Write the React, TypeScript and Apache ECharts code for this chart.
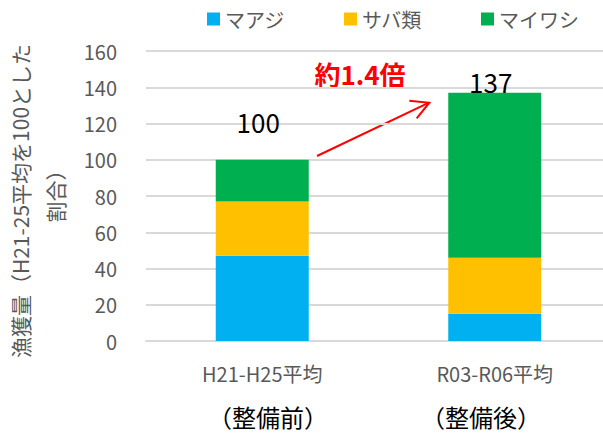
import React, { useEffect, useRef } from "react";
import * as echarts from "echarts";

const categories = ["H21-H25平均", "R03-R06平均"];
const periodNotes = ["（整備前）", "（整備後）"];
const seriesNames = ["マアジ", "サバ類", "マイワシ"];
const aji = [47, 15];
const saba = [30, 31];
const iwashi = [23, 91];
const totals = [100, 137];
const yTicks = { min: 0, max: 160, interval: 20 };
const ratioText = "約1.4倍";
const yName1 = "漁獲量（H21-25平均を100とした";
const yName2 = "割合）";

const colors = ["#00B0F0", "#FFC000", "#00B050"];
const FONT = "'Noto Sans CJK JP', 'Noto Sans', sans-serif";
const GRAY = "#595959";

export default function App() {
  const ref = useRef<HTMLDivElement>(null);
  useEffect(() => {
    if (!ref.current) return;
    const chart = echarts.init(ref.current, undefined, { renderer: "svg" });
    const values = [aji, saba, iwashi];
    const series: any[] = seriesNames.map((name, i) => ({
      name,
      type: "bar",
      stack: "total",
      barWidth: 93,
      itemStyle: { color: colors[i] },
      data: values[i].map((v, j) => {
        if (i !== 2) return v;
        return {
          value: v,
          label: {
            show: true,
            position: "top",
            distance: 0,
            offset: j === 0 ? [-4, -25] : [-4, 2],
            formatter: String(totals[j]),
            fontSize: 26,
            color: "#000",
            fontFamily: FONT,
          },
        };
      }),
    }));
    chart.setOption({
      animation: false,
      textStyle: { fontFamily: FONT },
      legend: {
        data: seriesNames,
        left: 202,
        top: 4,
        itemWidth: 13,
        itemHeight: 13,
        itemGap: 59,
        icon: "rect",
        textStyle: { fontSize: 20, color: GRAY, fontFamily: FONT },
      },
      grid: { left: 146, top: 51, width: 465, height: 290, containLabel: false },
      xAxis: {
        type: "category",
        data: categories,
        axisTick: { show: false },
        axisLine: { lineStyle: { color: "#d9d9d9", width: 2 } },
        axisLabel: { fontSize: 20, color: GRAY, margin: 22, fontFamily: FONT },
      },
      yAxis: {
        type: "value",
        min: yTicks.min,
        max: yTicks.max,
        interval: yTicks.interval,
        axisLine: { show: false },
        axisTick: { show: false },
        splitLine: { lineStyle: { color: "#d9d9d9", width: 2 } },
        axisLabel: { fontSize: 20, color: GRAY, margin: 29, fontFamily: FONT },
      },
      series,
      graphic: [
        {
          type: "text",
          x: 20,
          y: 201,
          rotation: Math.PI / 2,
          style: {
            text: yName1,
            fontSize: 21,
            fill: GRAY,
            fontFamily: FONT,
            align: "center",
            verticalAlign: "middle",
          },
        },
        {
          type: "text",
          x: 55,
          y: 191,
          rotation: Math.PI / 2,
          style: {
            text: yName2,
            fontSize: 21,
            fill: GRAY,
            fontFamily: FONT,
            align: "center",
            verticalAlign: "middle",
          },
        },
        {
          type: "text",
          x: 268,
          y: 416,
          style: {
            text: periodNotes[0],
            fontSize: 24,
            fill: "#000",
            fontFamily: FONT,
            align: "center",
            verticalAlign: "middle",
          },
        },
        {
          type: "text",
          x: 481,
          y: 416,
          style: {
            text: periodNotes[1],
            fontSize: 24,
            fill: "#000",
            fontFamily: FONT,
            align: "center",
            verticalAlign: "middle",
          },
        },
        {
          type: "text",
          x: 360,
          y: 73,
          style: {
            text: ratioText,
            fontSize: 26,
            fontWeight: "bold",
            fill: "#FF0000",
            fontFamily: FONT,
            align: "center",
            verticalAlign: "middle",
          },
        },
        {
          type: "line",
          shape: { x1: 317, y1: 156, x2: 429, y2: 102.7 },
          style: { stroke: "#FF0000", lineWidth: 2 },
        },
        {
          type: "polyline",
          shape: { points: [[409.3, 100.7], [429.3, 102.7], [416.7, 118.3]] },
          style: { stroke: "#FF0000", lineWidth: 2, fill: null },
        },
      ],
    });
    return () => chart.dispose();
  }, []);
  return (
    <div
      style={{
        position: "fixed",
        left: 0,
        top: 0,
        width: 603,
        height: 434,
        overflow: "hidden",
        background: "#fff",
      }}
    >
      <div ref={ref} style={{ width: 620, height: 434 }} />
    </div>
  );
}
